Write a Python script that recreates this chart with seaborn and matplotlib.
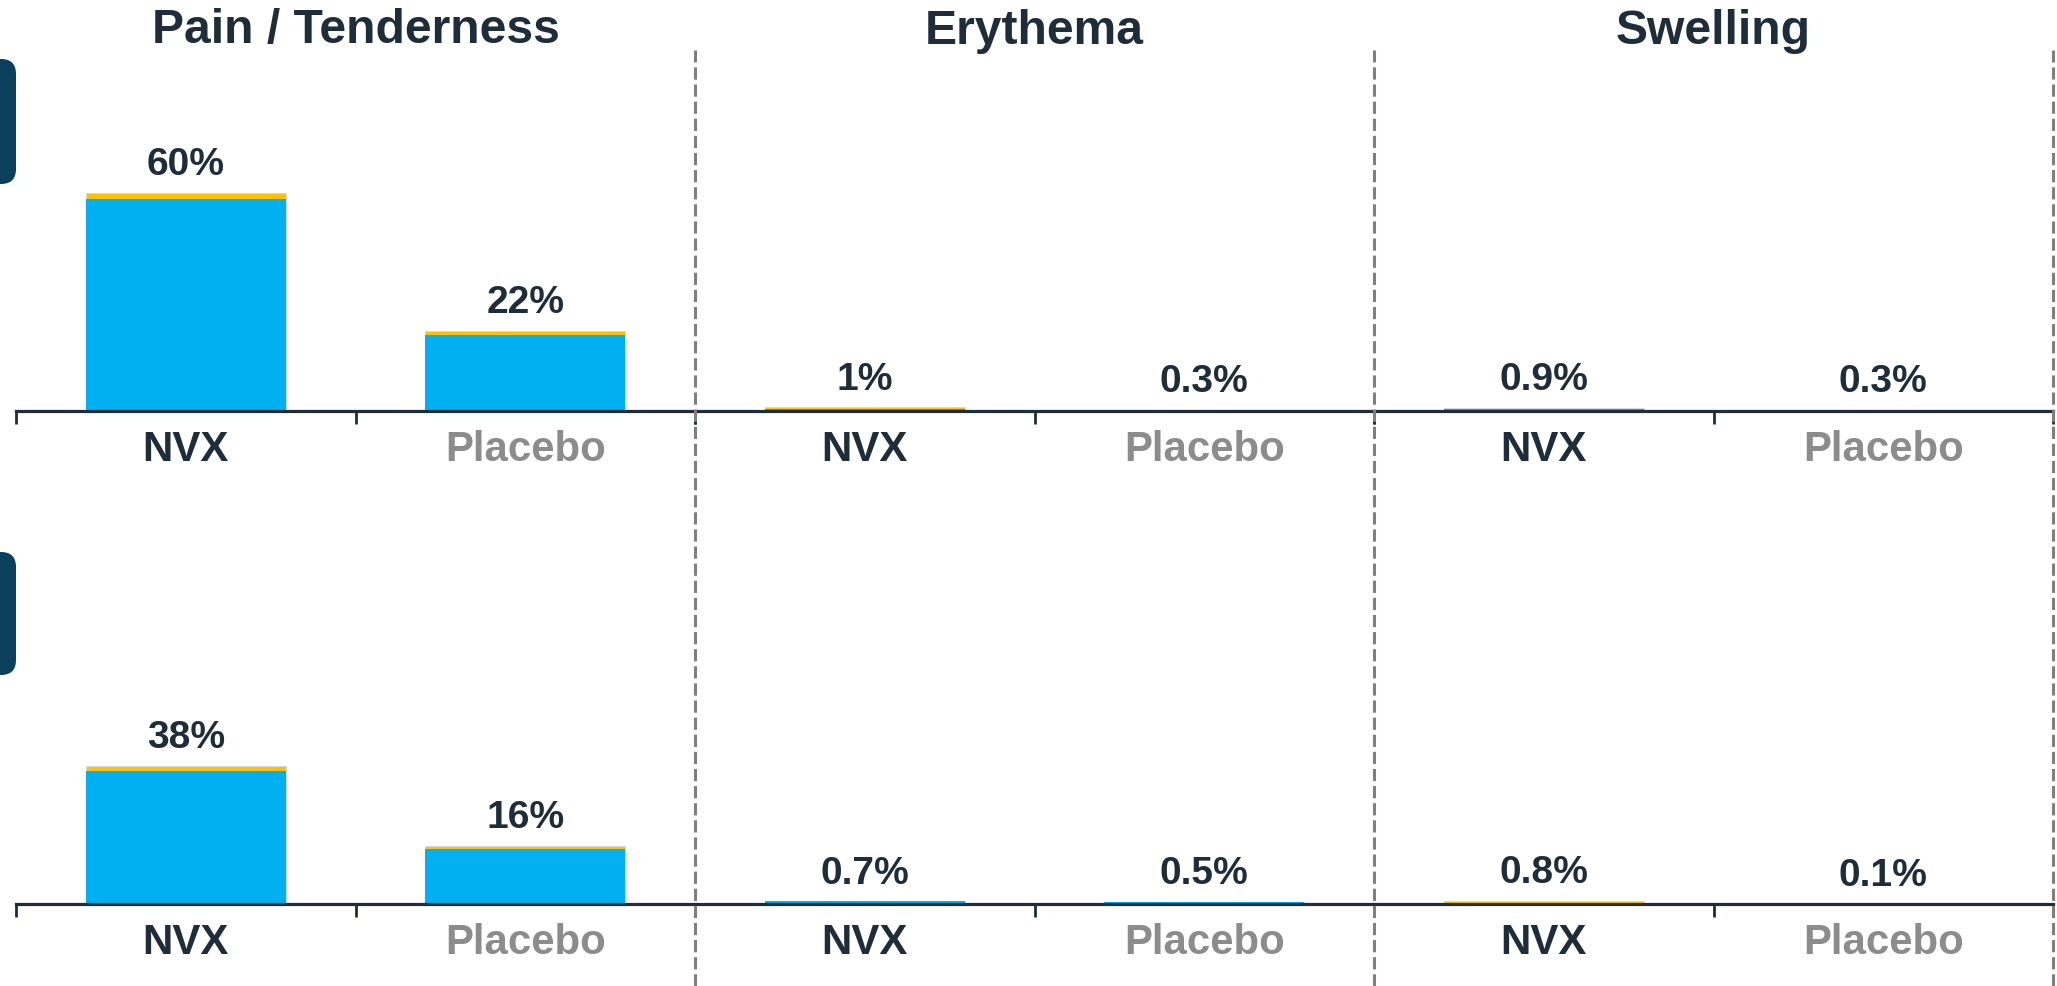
import matplotlib
matplotlib.use("Agg")
import matplotlib.pyplot as plt
import seaborn as sns
from matplotlib import font_manager
from matplotlib.lines import Line2D
from matplotlib.patches import FancyBboxPatch

# Chart data: local reactions by dose, NVX vs placebo (% of participants)
reactions = ["Pain / Tenderness", "Erythema", "Swelling"]
groups = ["NVX", "Placebo"]

# dose 1 (top row)
dose1_mild = [[58.5, 21.0], [0.6, 0.3], [0.5, 0.1]]
dose1_moderate = [[1.5, 1.0], [0.4, 0.0], [0.4, 0.2]]
dose1_labels = [["60%", "22%"], ["1%", "0.3%"], ["0.9%", "0.3%"]]

# dose 2 (bottom row)
dose2_mild = [[36.6, 15.2], [0.7, 0.5], [0.2, 0.1]]
dose2_moderate = [[1.4, 0.8], [0.0, 0.0], [0.6, 0.0]]
dose2_labels = [["38%", "16%"], ["0.7%", "0.5%"], ["0.8%", "0.1%"]]

NAVY = "#1F2D3A"
GREY = "#8C8C8C"
BLUE = "#00B0F0"
YELLOW = "#FFC000"
BOX = "#0B3F5C"

sns.set_theme(style="white")

# the slide uses a tall, tight sans; use the narrow face when it is there
names = {f.name for f in font_manager.fontManager.ttflist}
if "Liberation Sans Narrow" in names:
    plt.rcParams["font.family"] = ["Liberation Sans Narrow", "DejaVu Sans"]
    scale = 1.27
else:
    plt.rcParams["font.family"] = ["Liberation Sans", "DejaVu Sans"]
    scale = 1.08

W, H = 2057, 986
fig = plt.figure(figsize=(W / 100, H / 100), dpi=100)

panel_left = 16
panel_w = 679
row_base = [411, 904]
px_per_pct = 3.63
ymax = 100
ax_h = px_per_pct * ymax

rows = [(dose1_mild, dose1_moderate, dose1_labels),
        (dose2_mild, dose2_moderate, dose2_labels)]

for r, (mild, moderate, labels) in enumerate(rows):
    for c in range(3):
        left = (panel_left + c * panel_w) / W
        bottom = 1 - row_base[r] / H
        ax = fig.add_axes([left, bottom, panel_w / W, ax_h / H])
        totals = [m + d for m, d in zip(mild[c], moderate[c])]
        # stacked bars: total in yellow, mild drawn over it in blue
        sns.barplot(x=groups, y=totals, color=YELLOW, saturation=1, width=0.59,
                    edgecolor="#D9D9D9", linewidth=0.8, ax=ax)
        sns.barplot(x=groups, y=mild[c], color=BLUE, saturation=1, width=0.59,
                    linewidth=0, ax=ax)
        for i, t in enumerate(totals):
            ax.annotate(labels[c][i], (i, t), xytext=(0, 7), textcoords="offset points",
                        ha="center", va="bottom", fontsize=26 * scale, fontweight="bold",
                        color=NAVY)
        ax.set_xlim(-0.5, 1.5)
        ax.set_ylim(0, ymax)
        ax.set_yticks([])
        ax.set_xlabel("")
        ax.set_ylabel("")
        for s in ["left", "right", "top"]:
            ax.spines[s].set_visible(False)
        ax.spines["bottom"].set_color(NAVY)
        ax.spines["bottom"].set_linewidth(2.3)
        ax.spines["bottom"].set_zorder(5)
        ax.set_xticks([0, 1])
        ax.set_xticklabels(groups, fontsize=28 * scale, fontweight="bold")
        for lab, col in zip(ax.get_xticklabels(), [NAVY, GREY]):
            lab.set_color(col)
        ax.set_xticks([-0.5, 0.5, 1.5], minor=True)
        ax.tick_params(axis="x", which="major", bottom=False, length=0, pad=14)
        ax.tick_params(axis="x", which="minor", bottom=True, length=9, width=2,
                       color=NAVY, direction="out")
        ax.patch.set_alpha(0)

# panel titles
for c, name in enumerate(reactions):
    xc = (panel_left + (c + 0.5) * panel_w) / W
    fig.text(xc, 1 - 31 / H, name, ha="center", va="center", fontsize=32 * scale,
             fontweight="bold", color=NAVY)

# dashed separators
for c in range(1, 4):
    x = (panel_left + c * panel_w) / W
    fig.add_artist(Line2D([x, x], [0, 1 - 50 / H], transform=fig.transFigure,
                          color="#7F7F7F", linewidth=2.2, linestyle=(0, (4, 1.6))))

# cut-off row label boxes at left edge
for top_px, bot_px in [(59, 184), (552, 675)]:
    box = FancyBboxPatch((-0.3, (H - bot_px) / 100), 0.46, (bot_px - top_px) / 100,
                         boxstyle="round,pad=0,rounding_size=0.15",
                         transform=fig.dpi_scale_trans, facecolor=BOX, edgecolor="none")
    fig.add_artist(box)

fig.savefig("out.png", dpi=100)
